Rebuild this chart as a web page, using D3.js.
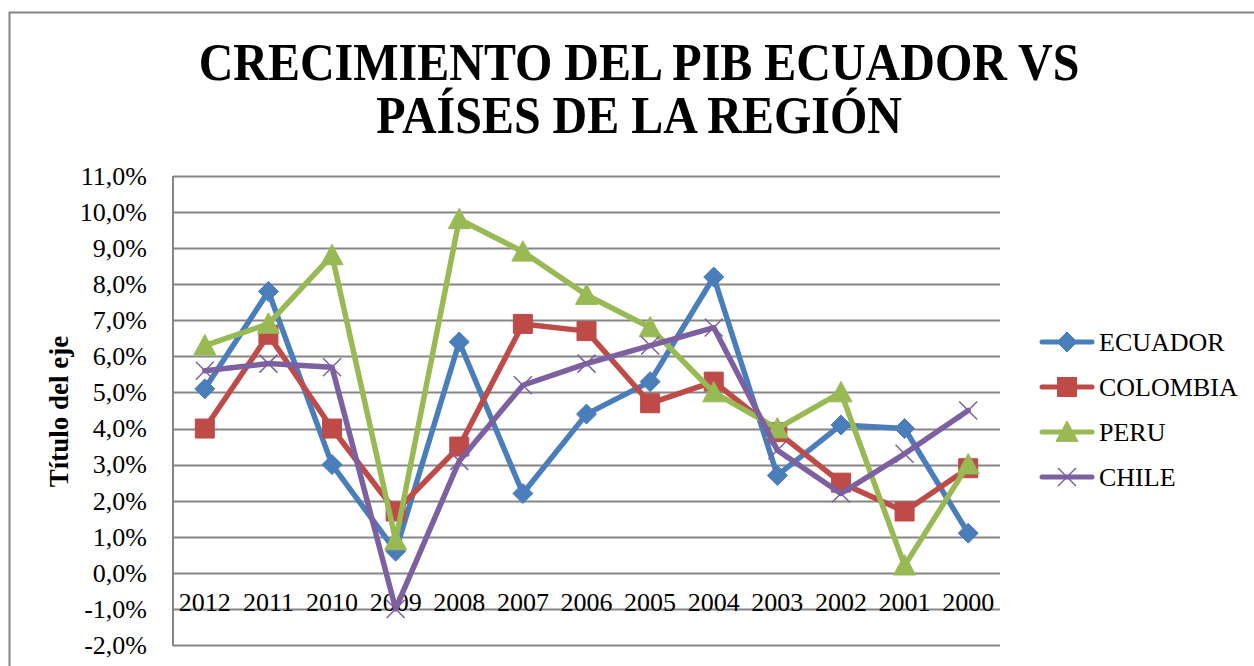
<!DOCTYPE html>
<html>
<head>
<meta charset="utf-8">
<script src="https://cdn.jsdelivr.net/npm/d3@7"></script>
<style>
  html, body { margin: 0; padding: 0; background: #fff; }
  svg { display: block; }
  text { font-family: "Liberation Serif", serif; }
</style>
</head>
<body>
<svg id="chart" width="1254" height="666"></svg>
<script>
const years = ["2012","2011","2010","2009","2008","2007","2006","2005","2004","2003","2002","2001","2000"];
const ecuador  = [5.1, 7.8, 3.0, 0.6, 6.4, 2.2, 4.4, 5.3, 8.2, 2.7, 4.1, 4.0, 1.1];
const colombia = [4.0, 6.6, 4.0, 1.7, 3.5, 6.9, 6.7, 4.7, 5.3, 3.9, 2.5, 1.7, 2.9];
const peru     = [6.3, 6.9, 8.8, 0.9, 9.8, 8.9, 7.7, 6.8, 5.0, 4.0, 5.0, 0.2, 3.0];
const chile    = [5.6, 5.8, 5.7, -1.0, 3.1, 5.2, 5.8, 6.3, 6.8, 3.4, 2.2, 3.3, 4.5];
const yTicks   = [-2, -1, 0, 1, 2, 3, 4, 5, 6, 7, 8, 9, 10, 11];
const seriesNames = ["ECUADOR", "COLOMBIA", "PERU", "CHILE"];
const titleLines = ["CRECIMIENTO DEL PIB ECUADOR VS", "PAÍSES DE LA REGIÓN"];
const axisTitle = "Título del eje";

const FONT = '"Liberation Serif", serif';
const series = [
  { name: seriesNames[0], values: ecuador,  color: "#4a7ebb", marker: "diamond" },
  { name: seriesNames[1], values: colombia, color: "#be4b48", marker: "square" },
  { name: seriesNames[2], values: peru,     color: "#98b954", marker: "triangle" },
  { name: seriesNames[3], values: chile,    color: "#7d60a0", marker: "x" }
];

const svg = d3.select("#chart");
const plot = { left: 173, right: 1000, top: 176, bottom: 645 };

// outer chart border
svg.append("path")
  .attr("d", "M9.5,666 L9.5,12.5 L1254,12.5")
  .attr("fill", "none").attr("stroke", "#868686").attr("stroke-width", 2);

// title (slightly tall, condensed look)
svg.append("g").attr("transform", "translate(639,0) scale(1,1.1)")
  .selectAll("text").data(titleLines).join("text")
  .attr("x", 0).attr("y", (d, i) => (80 + i * 53) / 1.1)
  .attr("text-anchor", "middle")
  .attr("font-family", FONT)
  .attr("font-size", 48).attr("font-weight", "bold")
  .text(d => d);

const x = d3.scaleBand().domain(years).range([plot.left, plot.right]);
const y = d3.scaleLinear().domain([-2, 11]).range([plot.bottom, plot.top]);

// gridlines
svg.append("g").selectAll("line").data(yTicks).join("line")
  .attr("x1", plot.left).attr("x2", plot.right)
  .attr("y1", d => Math.round(y(d)) + 0.5).attr("y2", d => Math.round(y(d)) + 0.5)
  .attr("stroke", "#868686").attr("stroke-width", 2);

// plot frame left
svg.append("line").attr("x1", plot.left).attr("x2", plot.left)
  .attr("y1", plot.top).attr("y2", plot.bottom + 1)
  .attr("stroke", "#868686").attr("stroke-width", 2);

// y axis
const yAxis = d3.axisLeft(y).tickValues(yTicks).tickSize(0).tickPadding(0)
  .tickFormat(d => d3.format(".1f")(d).replace(".", ",").replace("−", "-") + "%");
const gy = svg.append("g").attr("transform", `translate(${plot.left - 26},0)`).call(yAxis);
gy.attr("font-family", FONT);
gy.select(".domain").remove();
gy.selectAll("text").attr("font-size", 26).attr("fill", "#000").attr("font-family", FONT);

// x axis labels (axis crosses at 0)
const xAxis = d3.axisBottom(x).tickSize(0).tickPadding(0);
const gx = svg.append("g").attr("transform", `translate(0,${y(0) + 20})`).call(xAxis);
gx.attr("font-family", FONT);
gx.select(".domain").remove();
gx.selectAll("text").attr("font-size", 26).attr("fill", "#000").attr("font-family", FONT);

// axis title
svg.append("text")
  .attr("transform", `translate(68,${(plot.top + plot.bottom) / 2 + 1}) rotate(-90)`)
  .attr("text-anchor", "middle")
  .attr("font-family", FONT)
  .attr("font-size", 27).attr("font-weight", "bold")
  .text(axisTitle);

function markerPath(type, cx, cy) {
  if (type === "diamond") {
    const r = 10;
    return `M${cx},${cy - r}L${cx + r},${cy}L${cx},${cy + r}L${cx - r},${cy}Z`;
  }
  if (type === "square") {
    const r = 9.5;
    return `M${cx - r},${cy - r}h${2 * r}v${2 * r}h${-2 * r}Z`;
  }
  if (type === "triangle") {
    const r = 11;
    return `M${cx},${cy - r}L${cx + r},${cy + r * 0.85}L${cx - r},${cy + r * 0.85}Z`;
  }
  const r = 9;
  return `M${cx - r},${cy - r}L${cx + r},${cy + r}M${cx - r},${cy + r}L${cx + r},${cy - r}`;
}

const line = d3.line()
  .x((d, i) => x(years[i]) + x.bandwidth() / 2)
  .y(d => y(d));

const gs = svg.append("g").selectAll("g").data(series).join("g");
gs.append("path")
  .attr("d", d => line(d.values))
  .attr("fill", "none").attr("stroke", d => d.color)
  .attr("stroke-width", 5.5).attr("stroke-linejoin", "round").attr("stroke-linecap", "round");
gs.each(function (s) {
  d3.select(this).selectAll("path.m").data(s.values).join("path")
    .attr("class", "m")
    .attr("d", (v, i) => markerPath(s.marker, x(years[i]) + x.bandwidth() / 2, y(v)))
    .attr("fill", s.marker === "x" ? "none" : s.color)
    .attr("stroke", s.color)
    .attr("stroke-width", s.marker === "x" ? 1.5 : 1);
});

// legend
const legend = svg.append("g").selectAll("g").data(series).join("g")
  .attr("transform", (d, i) => `translate(1040,${342 + i * 45})`);
legend.append("line").attr("x1", 2).attr("x2", 52).attr("y1", 0).attr("y2", 0)
  .attr("stroke", d => d.color).attr("stroke-width", 5).attr("stroke-linecap", "round");
legend.append("path")
  .attr("d", d => markerPath(d.marker, 27, 0))
  .attr("fill", d => d.marker === "x" ? "none" : d.color)
  .attr("stroke", d => d.color)
  .attr("stroke-width", d => d.marker === "x" ? 1.5 : 1);
legend.append("text").attr("x", 59).attr("y", 9)
  .attr("font-family", FONT)
  .attr("font-size", 26).text(d => d.name);
</script>
</body>
</html>
